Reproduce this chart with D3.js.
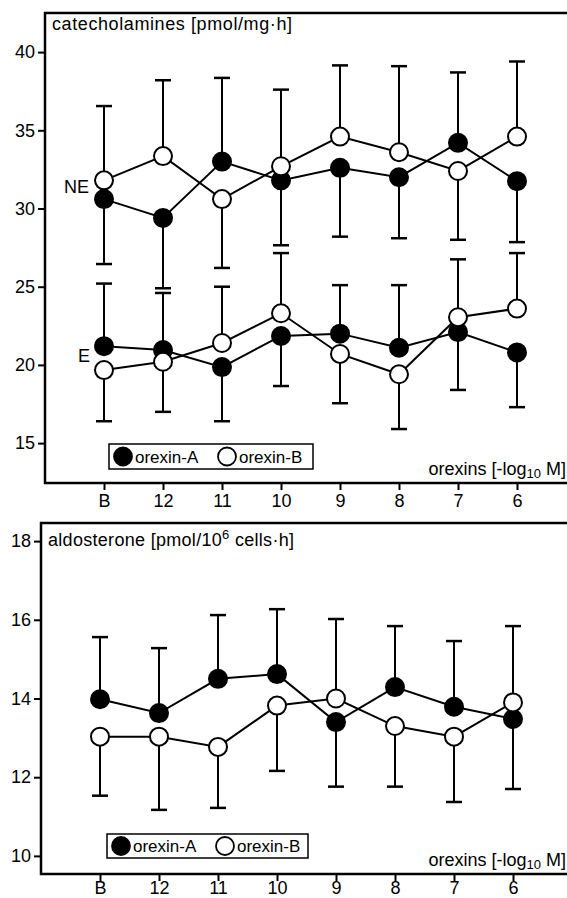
<!DOCTYPE html>
<html><head><meta charset="utf-8">
<script src="https://cdn.jsdelivr.net/npm/d3@7"></script>
<style>
body{margin:0;background:#fff}
text{font-family:"Liberation Sans",Arial,Helvetica,sans-serif;fill:#000}
</style></head>
<body><svg id="c" width="567" height="898"></svg>
<script>
// ---------- data ----------
const categories = ["B","12","11","10","9","8","7","6"];

// top panel: catecholamines [pmol/mg·h]
const neA = [30.6, 29.4, 33.0, 31.8, 32.6, 32.0, 34.2, 31.75];
const neB = [31.8, 33.35, 30.6, 32.7, 34.6, 33.6, 32.4, 34.6];
const neA_errEnd = [26.45, 24.9, 38.35, 27.65, 28.2, 28.1, 38.7, 27.85];
const neB_errEnd = [36.55, 38.2, 26.2, 37.6, 39.15, 39.1, 28.0, 39.4];
const eA = [21.2, 20.95, 19.86, 21.85, 22.0, 21.1, 22.1, 20.8];
const eB = [19.67, 20.2, 21.4, 23.3, 20.7, 19.4, 23.05, 23.6];
const eA_errEnd = [25.2, 24.6, 16.4, 18.65, 25.1, 25.1, 18.4, 17.3];
const eB_errEnd = [16.4, 17.0, 25.0, 27.15, 17.55, 15.9, 26.75, 27.15];
const topTicks = [15, 20, 25, 30, 35, 40];

// bottom panel: aldosterone [pmol/10^6 cells·h]
const aldoA = [13.98, 13.63, 14.5, 14.62, 13.4, 14.29, 13.79, 13.48];
const aldoB = [13.03, 13.03, 12.77, 13.82, 14.0, 13.3, 13.03, 13.9];
const aldoA_errEnd = [15.56, 15.28, 16.12, 16.27, 11.76, 15.84, 15.46, 11.7];
const aldoB_errEnd = [11.53, 11.17, 11.22, 12.16, 16.02, 11.76, 11.37, 15.84];
const bottomTicks = [10, 12, 14, 16, 18];

const legendLabels = ["orexin-A", "orexin-B"];

// ---------- drawing ----------
const W = 567;
const FS = 18;
const svg = d3.select("#c");

function drawPanel(o){
  const g = svg.append("g");
  const x = d3.scalePoint().domain(categories).range(o.xRange);
  const y = d3.scaleLinear().domain(o.yDomain).range([o.bottom, o.top]);

  // frame
  g.append("path")
    .attr("d", `M${W+10},${o.top}H${o.left}V${o.bottom}H${W+10}`)
    .attr("fill","none").attr("stroke","#000").attr("stroke-width",2.5);

  // y axis
  const ya = g.append("g").attr("transform",`translate(${o.left},0)`)
    .call(d3.axisLeft(y).tickValues(o.yTicks).tickSize(7).tickPadding(3));
  ya.select(".domain").remove();
  ya.selectAll("line").attr("stroke-width",2);
  ya.selectAll("text").attr("font-size",FS);

  // x axis
  const xa = g.append("g").attr("transform",`translate(0,${o.bottom})`)
    .call(d3.axisBottom(x).tickSize(7).tickPadding(o.xPad));
  xa.select(".domain").remove();
  xa.selectAll("line").attr("stroke-width",2);
  xa.selectAll("text").attr("font-size",FS);

  // error bars
  o.series.forEach(s=>{
    const eb = g.append("g").attr("stroke","#000").attr("stroke-width",2);
    eb.selectAll(".stem").data(s.values).join("line").attr("class","stem")
      .attr("x1",(d,i)=>x(categories[i])).attr("x2",(d,i)=>x(categories[i]))
      .attr("y1",d=>y(d)).attr("y2",(d,i)=>y(s.err[i]));
    eb.selectAll(".cap").data(s.err).join("line").attr("class","cap")
      .attr("stroke-width",2.5)
      .attr("x1",(d,i)=>x(categories[i])-8).attr("x2",(d,i)=>x(categories[i])+8)
      .attr("y1",d=>y(d)).attr("y2",d=>y(d));
  });

  // lines
  const line = d3.line().x((d,i)=>x(categories[i])).y(d=>y(d));
  o.series.forEach(s=>{
    g.append("path").datum(s.values).attr("d",line)
      .attr("fill","none").attr("stroke","#000").attr("stroke-width",2);
  });

  // markers
  o.series.forEach(s=>{
    g.append("g").selectAll("circle").data(s.values).join("circle")
      .attr("cx",(d,i)=>x(categories[i])).attr("cy",d=>y(d)).attr("r",9)
      .attr("fill",s.filled?"#000":"#fff").attr("stroke","#000").attr("stroke-width",2);
  });

  // title
  const t = g.append("text").attr("x",o.left+7).attr("y",o.titleY)
    .attr("font-size",FS).attr("textLength",o.titleLen).attr("lengthAdjust","spacing");
  o.title(t);

  // x axis label
  const xl = g.append("text").attr("x",W-1).attr("y",o.bottom-8).attr("text-anchor","end")
    .attr("font-size",FS);
  xl.append("tspan").text("orexins [-log");
  xl.append("tspan").attr("font-size",13).attr("dy",3).text("10");
  xl.append("tspan").attr("dy",-3).text(" M]");

  // legend
  const L = o.legend;
  g.append("rect").attr("x",L.x).attr("y",L.y).attr("width",L.w).attr("height",L.h)
    .attr("fill","#fff").attr("stroke","#000").attr("stroke-width",1.5);
  legendLabels.forEach((lab,k)=>{
    const cx = L.x + 14 + k*104;
    g.append("circle").attr("cx",cx).attr("cy",L.y+L.h/2).attr("r",9)
      .attr("fill",k===0?"#000":"#fff").attr("stroke","#000").attr("stroke-width",1.8);
    g.append("text").attr("x",cx+12).attr("y",L.y+L.h/2+6).attr("font-size",17).text(lab);
  });

  return {x,y,g};
}

const topPanel = drawPanel({
  left:45, top:13, bottom:483, xRange:[104,517], yDomain:[12.45,42.5], yTicks:topTicks, xPad:4,
  series:[
    {values:neA, err:neA_errEnd, filled:true},
    {values:neB, err:neB_errEnd, filled:false},
    {values:eA, err:eA_errEnd, filled:true},
    {values:eB, err:eB_errEnd, filled:false}
  ],
  titleY:30, titleLen:240,
  title:t=>t.text("catecholamines [pmol/mg·h]"),
  legend:{x:109,y:444,w:204,h:25}
});
topPanel.g.append("text").attr("x",topPanel.x("B")-15).attr("y",topPanel.y(31.0)).attr("text-anchor","end")
  .attr("font-size",FS).text("NE");
topPanel.g.append("text").attr("x",topPanel.x("B")-14).attr("y",topPanel.y(20.18)).attr("text-anchor","end")
  .attr("font-size",FS).text("E");

drawPanel({
  left:41, top:523, bottom:874, xRange:[100,513], yDomain:[9.54,18.46], yTicks:bottomTicks, xPad:0,
  series:[
    {values:aldoA, err:aldoA_errEnd, filled:true},
    {values:aldoB, err:aldoB_errEnd, filled:false}
  ],
  titleY:546, titleLen:246,
  title:t=>{
    t.append("tspan").text("aldosterone [pmol/10");
    t.append("tspan").attr("font-size",13).attr("dy",-7).text("6");
    t.append("tspan").attr("dy",7).text(" cells·h]");
  },
  legend:{x:107,y:834,w:201,h:24}
});
</script></body></html>
